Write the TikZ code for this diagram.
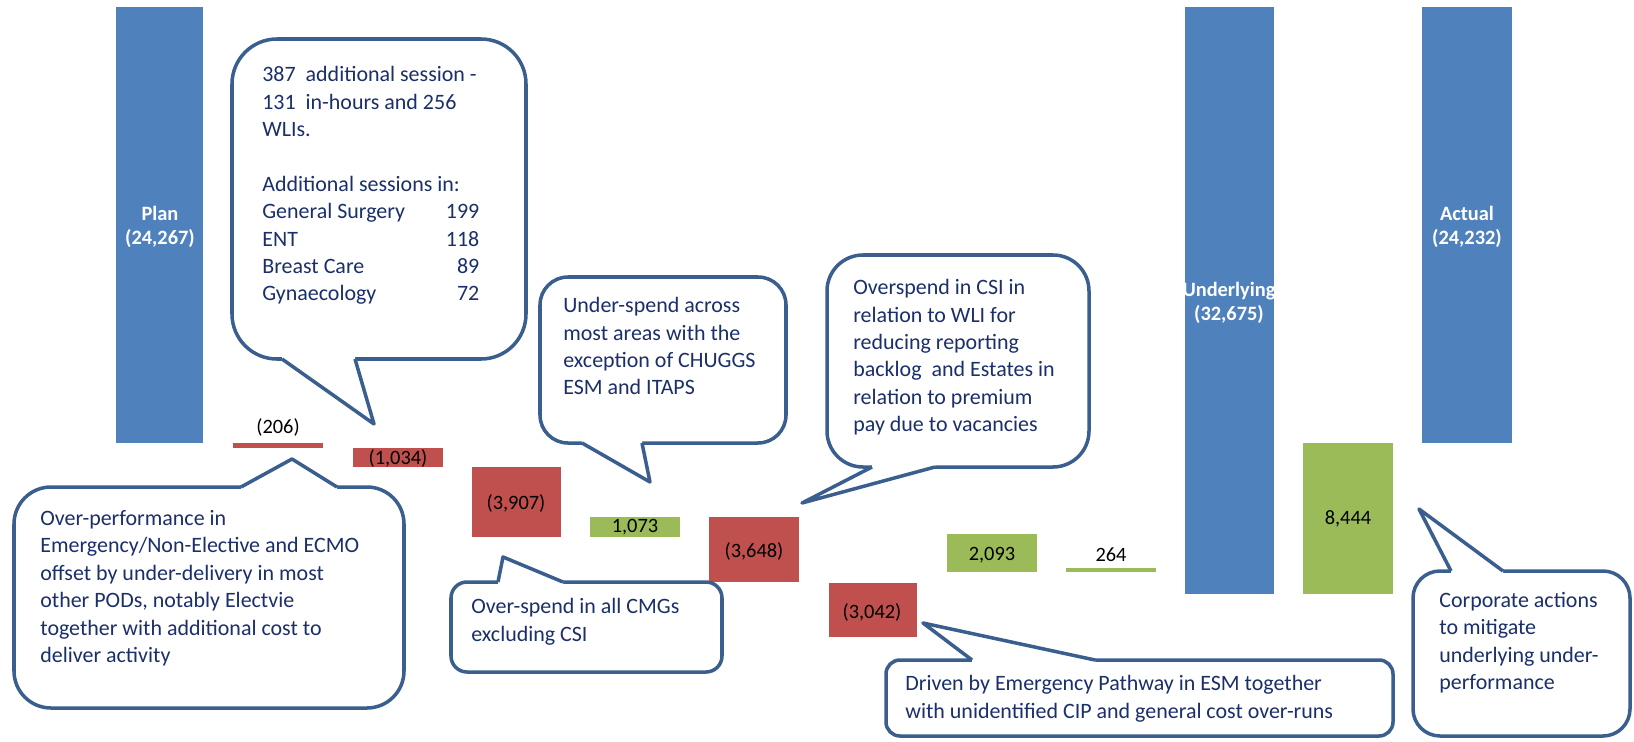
\documentclass[tikz,border=0pt]{standalone}
\usepackage{fontspec}
\setmainfont{Carlito}

\definecolor{barblue}{HTML}{4F81BD}
\definecolor{barred}{HTML}{C0504D}
\definecolor{bargreen}{HTML}{9BBB59}
\definecolor{calledge}{HTML}{3A5F8E}
\definecolor{notecolor}{HTML}{1B2F6B}

\newcommand{\sessrow}[2]{\makebox[4.34cm][l]{#1\hfill#2}}

\tikzset{
    callbox/.style={draw=calledge, line width=2pt, fill=white},
    callline/.style={draw=calledge, line width=2pt, line join=round},
    notetext/.style={anchor=north west, inner sep=0pt, align=left, text=notecolor,
        font=\fontsize{12.5}{15.6}\selectfont},
    barlabel/.style={inner sep=0pt, text=black, font=\fontsize{11.6}{13.6}\selectfont},
    totallabel/.style={inner sep=0pt, text=white, align=center,
        font=\bfseries\fontsize{11.6}{13.6}\selectfont}
}

\begin{document}
\begin{tikzpicture}[x=0.02cm, y=-0.02cm]
    \useasboundingbox (0,0) rectangle (1634,741);

    % Totals
    \fill[barblue] (116,7) rectangle (203,443);
    \node[totallabel] (plan) at (160,227) {Plan\\(24,267)};
    \fill[barblue] (1185,7) rectangle (1274,594);
    \node[totallabel] (underlying) at (1229,303) {Underlying\\(32,675)};
    \fill[barblue] (1422,7) rectangle (1512,443);
    \node[totallabel] (actual) at (1467,227) {Actual\\(24,232)};

    % Movements
    \fill[barred] (233,443) rectangle (323,448);
    \node[barlabel] (perf) at (278,427) {(206)};
    \fill[barred] (353,448) rectangle (443,467);
    \node[barlabel] (sessions) at (398,458) {(1,034)};
    \fill[barred] (472,467) rectangle (561,537);
    \node[barlabel] (cmg) at (516,503) {(3,907)};
    \fill[bargreen] (590,517) rectangle (680,537);
    \node[barlabel] (underspend) at (635,527) {1,073};
    \fill[barred] (709,517) rectangle (799,582);
    \node[barlabel] (csi) at (754,551) {(3,648)};
    \fill[barred] (829,583) rectangle (917,637);
    \node[barlabel] (esm) at (872,612) {(3,042)};
    \fill[bargreen] (947,534) rectangle (1037,572);
    \node[barlabel] (gain) at (992,555) {2,093};
    \fill[bargreen] (1066,568) rectangle (1156,572);
    \node[barlabel] (other) at (1111,555) {264};
    \fill[bargreen] (1303,443) rectangle (1393,594);
    \node[barlabel] (corporate) at (1348,519) {8,444};

    % Callout: additional sessions
    \draw[callbox, rounded corners=0.9cm] (232,39) rectangle (526,359);
    \coordinate (sesstip) at (374,424);
    \fill[white] (282,355) -- (282,359) -- (sesstip) -- (355,359) -- (355,355) -- cycle;
    \draw[callline] (282,359) -- (sesstip) -- (355,359);
    \node[notetext] (sessnote) at (262,66) {387\ \ additional session -\\131\ \ in-hours and 256\\WLIs.\\[15.6pt]
        Additional sessions in:\\\sessrow{General Surgery}{199}\\\sessrow{ENT}{118}\\
        \sessrow{Breast Care}{89}\\\sessrow{Gynaecology}{72}};

    % Callout: over-performance
    \draw[callbox, rounded corners=0.74cm] (14,487) rectangle (404,708);
    \coordinate (perftip) at (292,459);
    \fill[white] (241,491) -- (241,487) -- (perftip) -- (337,487) -- (337,491) -- cycle;
    \draw[callline] (241,487) -- (perftip) -- (337,487);
    \node[notetext] (perfnote) at (40,510) {Over-performance in\\Emergency/Non-Elective and ECMO\\
        offset by under-delivery in most\\other PODs, notably Electvie\\
        together with additional cost to\\deliver activity};

    % Callout: under-spend
    \draw[callbox, rounded corners=0.56cm] (540,277) rectangle (786,443);
    \coordinate (undertip) at (650,482);
    \fill[white] (582,439) -- (582,443) -- (undertip) -- (642,443) -- (642,439) -- cycle;
    \draw[callline] (582,443) -- (undertip) -- (642,443);
    \node[notetext] (undernote) at (563,297) {Under-spend across\\most areas with the\\
        exception of CHUGGS\\ESM and ITAPS};

    % Callout: CMGs
    \draw[callbox, rounded corners=0.32cm] (451,582) rectangle (722,672);
    \coordinate (cmgtip) at (503,557);
    \fill[white] (498,586) -- (498,582) -- (cmgtip) -- (563,582) -- (563,586) -- cycle;
    \draw[callline] (498,582) -- (cmgtip) -- (563,582);
    \node[notetext] (cmgnote) at (471,598) {Over-spend in all CMGs\\excluding CSI};

    % Callout: CSI
    \draw[callbox, rounded corners=0.72cm] (827,255) rectangle (1089,467);
    \coordinate (csitip) at (802,503);
    \fill[white] (872,463) -- (872,467) -- (csitip) -- (935,467) -- (935,463) -- cycle;
    \draw[callline] (935,467) -- (csitip) -- (872,467);
    \node[notetext] (csinote) at (853,279) {Overspend in CSI in\\relation to WLI for\\
        reducing reporting\\backlog\ \ and Estates in\\relation to premium\\pay due to vacancies};

    % Callout: ESM
    \draw[callbox, rounded corners=0.28cm] (886,660) rectangle (1393,736);
    \coordinate (esmtip) at (923,623);
    \fill[white] (972,664) -- (972,660) -- (esmtip) -- (1095,660) -- (1095,664) -- cycle;
    \draw[callline] (972,660) -- (esmtip) -- (1095,660);
    \node[notetext] (esmnote) at (905,675) {Driven by Emergency Pathway in ESM together\\
        with unidentified CIP and general cost over-runs};

    % Callout: corporate actions
    \draw[callbox, rounded corners=0.54cm] (1413,571) rectangle (1630,736);
    \coordinate (corptip) at (1419,509);
    \fill[white] (1451,575) -- (1451,571) -- (corptip) -- (1503,571) -- (1503,575) -- cycle;
    \draw[callline] (1451,571) -- (corptip) -- (1503,571);
    \node[notetext] (corpnote) at (1439,592) {Corporate actions\\to mitigate\\
        underlying under-\\performance};

\end{tikzpicture}
\end{document}
